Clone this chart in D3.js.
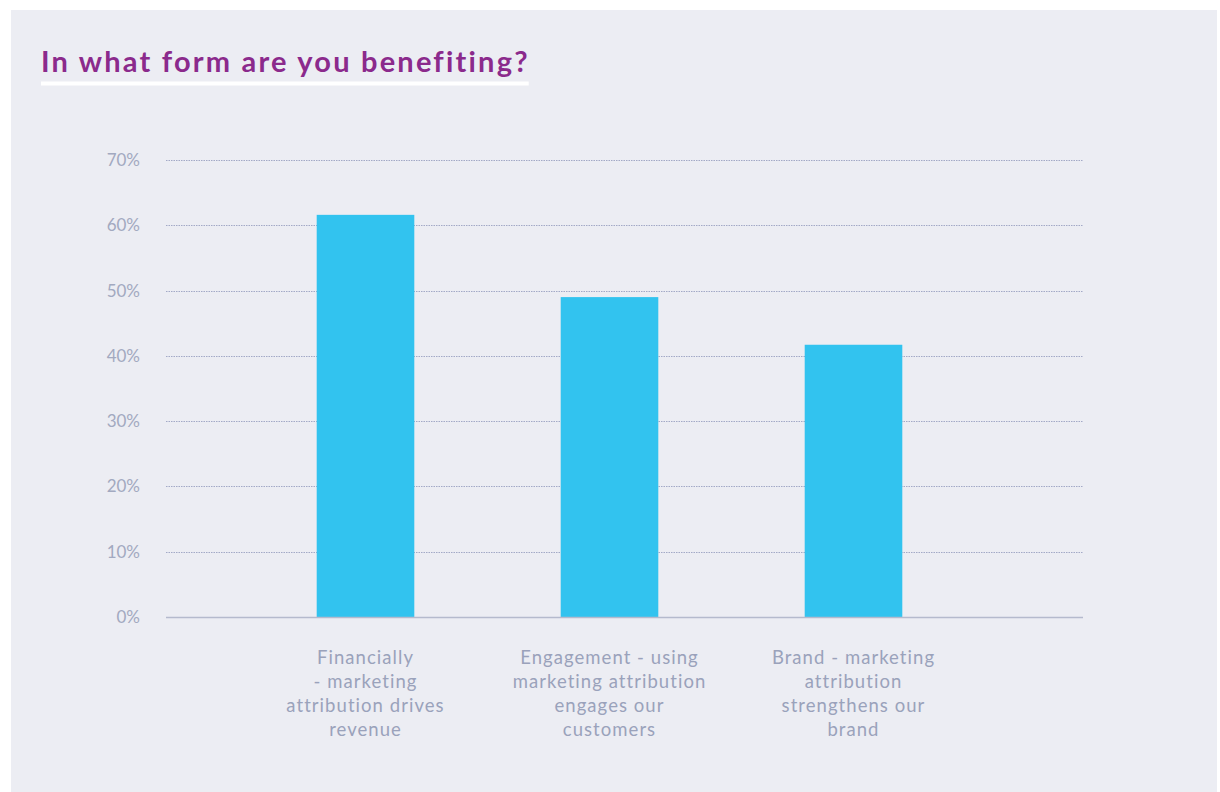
<!DOCTYPE html>
<html>
<head>
<meta charset="utf-8">
<script src="https://cdn.jsdelivr.net/npm/d3@7"></script>
<style>
  html, body { margin: 0; padding: 0; background: #ffffff; }
  svg { display: block; }
</style>
</head>
<body>
<svg id="chart" width="1220" height="792"></svg>
<script>
// Survey answers: share of respondents per benefit
const categories = [
  "Financially - marketing attribution drives revenue",
  "Engagement - using marketing attribution engages our customers",
  "Brand - marketing attribution strengthens our brand"
];
const categoryLines = [
  ["Financially", "- marketing", "attribution drives", "revenue"],
  ["Engagement - using", "marketing attribution", "engages our", "customers"],
  ["Brand - marketing", "attribution", "strengthens our", "brand"]
];
const values = [61.6, 49.0, 41.7];
const yTicks = [0, 10, 20, 30, 40, 50, 60, 70];
const titleText = "In what form are you benefiting?";

const svg = d3.select("#chart");
const font = "Lato, 'Open Sans', sans-serif";

// card background
svg.append("rect")
  .attr("x", 11).attr("y", 10)
  .attr("width", 1206).attr("height", 790)
  .attr("fill", "#ecedf3");

// title with underline
const title = svg.append("text")
  .attr("x", 41).attr("y", 72)
  .attr("font-family", font)
  .attr("font-size", 29)
  .attr("font-weight", 700)
  .attr("letter-spacing", 2.2)
  .attr("fill", "#8b2a8c")
  .text(titleText);
const tw = title.node().getComputedTextLength();
svg.insert("rect", "text")
  .attr("x", 41).attr("y", 81.5)
  .attr("width", tw - 1).attr("height", 4)
  .attr("fill", "#ffffff");

// scales
const gridLeft = 166, gridRight = 1083;
const y = d3.scaleLinear().domain([0, 70]).range([617, 160]);
const x = d3.scaleBand().domain(categories)
  .range([243.5, 975.5]).paddingInner(0.6).paddingOuter(0.3);

// dotted gridlines
svg.append("g").selectAll("line")
  .data(yTicks.filter(d => d > 0))
  .join("line")
  .attr("x1", gridLeft).attr("x2", gridRight)
  .attr("y1", d => Math.round(y(d)) + 0.5).attr("y2", d => Math.round(y(d)) + 0.5)
  .attr("stroke", "#a3a9c6")
  .attr("stroke-width", 1)
  .attr("stroke-dasharray", "1.5,1");

// y tick labels
svg.append("g").selectAll("text")
  .data(yTicks)
  .join("text")
  .attr("x", 140)
  .attr("y", d => y(d) + 6)
  .attr("text-anchor", "end")
  .attr("font-family", font)
  .attr("font-size", 17)
  .attr("fill", "#a2a9c0")
  .text(d => d + "%");

// bars
svg.append("g").selectAll("rect")
  .data(values)
  .join("rect")
  .attr("x", (d, i) => x(categories[i]))
  .attr("y", d => y(d))
  .attr("width", x.bandwidth())
  .attr("height", d => y(0) - y(d))
  .attr("fill", "#32c3ef");

// baseline
svg.append("line")
  .attr("x1", gridLeft).attr("x2", gridRight)
  .attr("y1", y(0) + 0.5).attr("y2", y(0) + 0.5)
  .attr("stroke", "#b5bacd")
  .attr("stroke-width", 1.5);

// category labels
const labels = svg.append("g").selectAll("text")
  .data(categoryLines)
  .join("text")
  .attr("text-anchor", "middle")
  .attr("font-family", font)
  .attr("font-size", 18.5)
  .attr("letter-spacing", 1.05)
  .attr("fill", "#9aa2bb");
labels.each(function(lines, i) {
  const cx = x(categories[i]) + x.bandwidth() / 2;
  d3.select(this).selectAll("tspan")
    .data(lines)
    .join("tspan")
    .attr("x", cx)
    .attr("y", (d, j) => 664 + j * 24)
    .text(d => d);
});
</script>
</body>
</html>
